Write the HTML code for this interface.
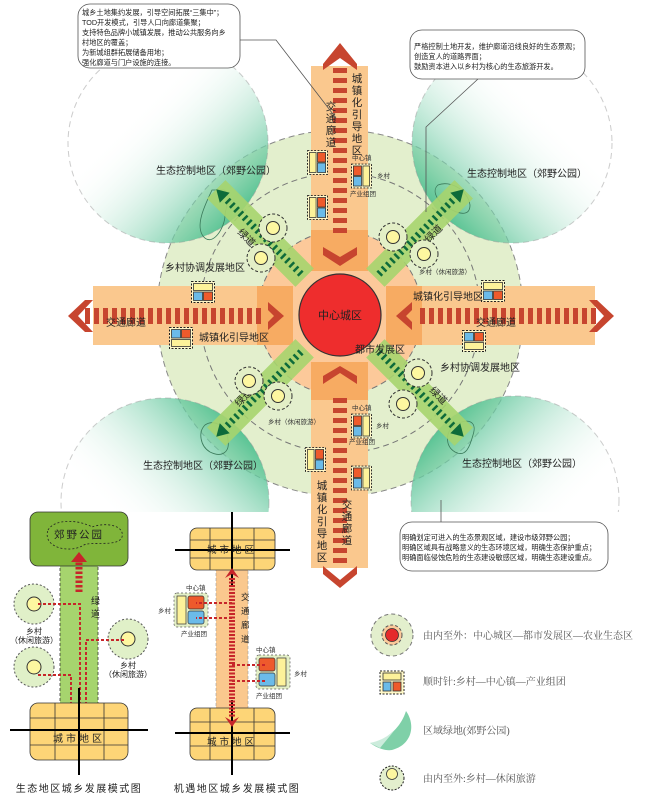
<!DOCTYPE html>
<html><head><meta charset="utf-8">
<style>
html,body{margin:0;padding:0;background:#fff;}
svg{display:block;font-family:"Liberation Sans","Noto Sans CJK SC",sans-serif;}
</style></head>
<body>
<svg width="670" height="800" viewBox="0 0 670 800" xmlns="http://www.w3.org/2000/svg">
<defs>
  <linearGradient id="gNW" x1="0.1" y1="0.1" x2="0.9" y2="0.9"><stop offset="0.3" stop-color="#fff" stop-opacity="0"/><stop offset="1" stop-color="#3dba85"/></linearGradient>
  <linearGradient id="gNE" x1="0.9" y1="0.1" x2="0.1" y2="0.9"><stop offset="0.3" stop-color="#fff" stop-opacity="0"/><stop offset="1" stop-color="#3dba85"/></linearGradient>
  <linearGradient id="gSW" x1="0.1" y1="0.9" x2="0.9" y2="0.1"><stop offset="0.3" stop-color="#fff" stop-opacity="0"/><stop offset="1" stop-color="#3dba85"/></linearGradient>
  <linearGradient id="gSE" x1="0.9" y1="0.9" x2="0.1" y2="0.1"><stop offset="0.3" stop-color="#fff" stop-opacity="0"/><stop offset="1" stop-color="#3dba85"/></linearGradient>
  <clipPath id="clipTop"><rect x="0" y="0" width="670" height="512"/></clipPath>
  <symbol id="tv" viewBox="0 0 22 26"><rect x="0.5" y="0.5" width="21" height="25" fill="#fff8c8" stroke="#222" stroke-dasharray="2 1.5"/><rect x="2.5" y="2.5" width="7" height="21" fill="#fdf29a" stroke="#333" stroke-width="0.8"/><rect x="11" y="2.5" width="8.5" height="10" fill="#ee5a2c" stroke="#333" stroke-width="0.8"/><rect x="11" y="13.5" width="8.5" height="10" fill="#6bbbe9" stroke="#333" stroke-width="0.8"/></symbol>
  <symbol id="tvr" viewBox="0 0 22 26"><rect x="0.5" y="0.5" width="21" height="25" fill="#fff8c8" stroke="#222" stroke-dasharray="2 1.5"/><rect x="12.5" y="2.5" width="7" height="21" fill="#fdf29a" stroke="#333" stroke-width="0.8"/><rect x="2.5" y="2.5" width="8.5" height="10" fill="#ee5a2c" stroke="#333" stroke-width="0.8"/><rect x="2.5" y="13.5" width="8.5" height="10" fill="#6bbbe9" stroke="#333" stroke-width="0.8"/></symbol>
  <symbol id="th" viewBox="0 0 24 22"><rect x="0.5" y="0.5" width="23" height="21" fill="#fff8c8" stroke="#222" stroke-dasharray="2 1.5"/><rect x="2.5" y="2.5" width="19" height="7" fill="#fdf29a" stroke="#333" stroke-width="0.8"/><rect x="2.5" y="11" width="9" height="8.5" fill="#6bbbe9" stroke="#333" stroke-width="0.8"/><rect x="12.5" y="11" width="9" height="8.5" fill="#ee5a2c" stroke="#333" stroke-width="0.8"/></symbol>
  <symbol id="thb" viewBox="0 0 24 22"><rect x="0.5" y="0.5" width="23" height="21" fill="#fff8c8" stroke="#222" stroke-dasharray="2 1.5"/><rect x="2.5" y="12.5" width="19" height="7" fill="#fdf29a" stroke="#333" stroke-width="0.8"/><rect x="2.5" y="2.5" width="9" height="8.5" fill="#6bbbe9" stroke="#333" stroke-width="0.8"/><rect x="12.5" y="2.5" width="9" height="8.5" fill="#ee5a2c" stroke="#333" stroke-width="0.8"/></symbol>
  <symbol id="vil" viewBox="0 0 30 30"><circle cx="15" cy="15" r="14" fill="#e3efc6" stroke="#333" stroke-dasharray="3 2"/><circle cx="15" cy="15" r="6.5" fill="#fdf7a0" stroke="#333"/></symbol>
</defs>

<!-- big green circle -->
<circle cx="340" cy="313" r="183" fill="#e3efcd" stroke="#888" stroke-dasharray="6 4"/>
<circle cx="340" cy="313" r="140" fill="none" stroke="#777" stroke-dasharray="6 4"/>

<!-- eco wedges -->
<g clip-path="url(#clipTop)">
<circle cx="168" cy="143" r="100" fill="url(#gNW)" stroke="#999" stroke-dasharray="6 4" stroke-opacity="0.5"/>
<circle cx="512" cy="143" r="100" fill="url(#gNE)" stroke="#999" stroke-dasharray="6 4" stroke-opacity="0.5"/>
<circle cx="165" cy="502" r="104" fill="url(#gSW)" stroke="#999" stroke-dasharray="6 4" stroke-opacity="0.5"/>
<circle cx="515" cy="500" r="104" fill="url(#gSE)" stroke="#999" stroke-dasharray="6 4" stroke-opacity="0.5"/>
</g>
<!-- park blobs -->
<path d="M212 190 C205 205,195 225,203 236 C212 248,225 228,225 215 C226 205,232 195,224 190 Z" fill="none" stroke="#3a7a5a" stroke-width="0.8"/>
<path d="M438 185 C450 180,468 190,470 205 C470 215,462 215,452 210 C440 205,430 192,438 185 Z" fill="none" stroke="#3a7a5a" stroke-width="0.8"/>
<path d="M205 425 C215 418,228 428,228 440 C230 452,222 458,210 452 C200 446,198 432,205 425 Z" fill="none" stroke="#3a7a5a" stroke-width="0.8"/>
<path d="M455 425 C466 418,478 420,473 435 C470 446,466 458,455 452 C445 446,445 432,455 425 Z" fill="none" stroke="#3a7a5a" stroke-width="0.8"/>

<!-- orange circle -->
<circle cx="340" cy="313" r="82" fill="#fcc99a" stroke="#777" stroke-dasharray="6 4"/>

<!-- bands -->
<rect x="311" y="66" width="57" height="178" fill="#fac88e"/>
<rect x="311" y="365" width="57" height="203" fill="#fac88e"/>
<rect x="93" y="286" width="172" height="59" fill="#fac88e"/>
<rect x="413" y="286" width="182" height="59" fill="#fac88e"/>
<rect x="311" y="230" width="57" height="41" fill="#f7ab62"/>
<rect x="311" y="362" width="57" height="38" fill="#f7ab62"/>
<rect x="257" y="286" width="36" height="59" fill="#f7ab62"/>
<rect x="386" y="286" width="36" height="59" fill="#f7ab62"/>

<!-- red dashes -->
<line x1="340" y1="68" x2="340" y2="238" stroke="#c7452f" stroke-width="14" stroke-dasharray="5 5"/>
<line x1="340" y1="398" x2="340" y2="565" stroke="#c7452f" stroke-width="14" stroke-dasharray="5 5"/>
<line x1="85" y1="316" x2="265" y2="316" stroke="#c7452f" stroke-width="16" stroke-dasharray="5 4"/>
<line x1="420" y1="316" x2="598" y2="316" stroke="#c7452f" stroke-width="16" stroke-dasharray="5 4"/>
<!-- chevrons -->
<polygon points="323,64 340,43 357,64 357,70 340,58 323,70" fill="#c7452f"/>
<polygon points="323,566 340,580 357,566 357,574 340,588 323,574" fill="#c7452f"/>
<polygon points="323,247 340,257 357,247 357,255 340,266 323,255" fill="#c7452f"/>
<polygon points="323,384 340,373 357,384 357,376 340,366 323,376" fill="#c7452f"/>
<polygon points="85,300 68,316 85,332 93,332 78,316 93,300" fill="#c7452f"/>
<polygon points="597,300 614,316 597,332 589,332 604,316 589,300" fill="#c7452f"/>
<polygon points="268,302 284,316 268,330 268,322 274,316 268,310" fill="#c7452f"/>
<polygon points="412,302 396,316 412,330 412,322 406,316 412,310" fill="#c7452f"/>

<!-- diagonal greenways -->
<g transform="translate(340,313) rotate(-135)">
  <rect x="50" y="-13" width="125" height="26" fill="#a6d46e" opacity="0.9"/>
  <line x1="55" y1="0" x2="163" y2="0" stroke="#0d6b3a" stroke-width="7" stroke-dasharray="2.5 3.5"/>
  <polygon points="163,-7 175,0 163,7" fill="#0d6b3a"/>
</g>
<g transform="translate(340,313) rotate(-45)">
  <rect x="50" y="-13" width="125" height="26" fill="#a6d46e" opacity="0.9"/>
  <line x1="55" y1="0" x2="163" y2="0" stroke="#0d6b3a" stroke-width="7" stroke-dasharray="2.5 3.5"/>
  <polygon points="163,-7 175,0 163,7" fill="#0d6b3a"/>
</g>
<g transform="translate(340,313) rotate(135)">
  <rect x="50" y="-13" width="125" height="26" fill="#a6d46e" opacity="0.9"/>
  <line x1="55" y1="0" x2="163" y2="0" stroke="#0d6b3a" stroke-width="7" stroke-dasharray="2.5 3.5"/>
  <polygon points="163,-7 175,0 163,7" fill="#0d6b3a"/>
</g>
<g transform="translate(340,313) rotate(45)">
  <rect x="50" y="-13" width="125" height="26" fill="#a6d46e" opacity="0.9"/>
  <line x1="55" y1="0" x2="163" y2="0" stroke="#0d6b3a" stroke-width="7" stroke-dasharray="2.5 3.5"/>
  <polygon points="163,-7 175,0 163,7" fill="#0d6b3a"/>
</g>
<g font-size="10" fill="#222">
<text x="244" y="240" transform="rotate(45 244 240)" text-anchor="middle">绿道</text>
<text x="436" y="236" transform="rotate(-45 436 236)" text-anchor="middle">绿道</text>
<text x="246" y="400" transform="rotate(-45 246 400)" text-anchor="middle">绿道</text>
<text x="436" y="398" transform="rotate(45 436 398)" text-anchor="middle">绿道</text>
</g>

<!-- center -->
<circle cx="340" cy="315" r="41" fill="#ee2d2d" stroke="#333" stroke-width="1.2"/>
<text x="340" y="319" font-size="11" text-anchor="middle" fill="#222">中心城区</text>
<text x="355" y="353" font-size="10" fill="#222">都市发展区</text>

<!-- villages -->
<use href="#vil" x="258" y="213" width="30" height="30"/>
<use href="#vil" x="246" y="243" width="30" height="30"/>
<use href="#vil" x="378" y="222" width="30" height="30"/>
<use href="#vil" x="409" y="239" width="30" height="30"/>
<use href="#vil" x="234" y="366" width="30" height="30"/>
<use href="#vil" x="263" y="381" width="30" height="30"/>
<use href="#vil" x="403" y="358" width="30" height="30"/>
<use href="#vil" x="388" y="389" width="30" height="30"/>
<text x="419" y="274" font-size="6.5" fill="#333">乡村（休闲旅游）</text>
<text x="268" y="424" font-size="6.5" fill="#333">乡村（休闲旅游）</text>

<!-- towns -->
<use href="#tv" x="307" y="150" width="21" height="25"/>
<use href="#tv" x="307" y="195" width="21" height="25"/>
<use href="#tvr" x="351" y="163" width="21" height="26"/>
<text x="352" y="160" font-size="6.5" fill="#333">中心镇</text>
<text x="377" y="178" font-size="6.5" fill="#333">乡村</text>
<text x="350" y="196" font-size="6.5" fill="#333">产业组团</text>
<use href="#th" x="191" y="281" width="24" height="22"/>
<use href="#thb" x="169" y="327" width="24" height="22"/>
<use href="#th" x="481" y="280" width="24" height="22"/>
<use href="#thb" x="462" y="330" width="24" height="22"/>
<use href="#tv" x="305" y="447" width="21" height="25"/>
<use href="#tvr" x="351" y="413" width="21" height="26"/>
<use href="#tvr" x="351" y="465" width="21" height="26"/>
<text x="352" y="410" font-size="6.5" fill="#333">中心镇</text>
<text x="376" y="428" font-size="6.5" fill="#333">乡村</text>
<text x="349" y="444" font-size="6.5" fill="#333">产业组团</text>

<!-- labels -->
<g font-size="10" fill="#222">
<text x="156" y="174">生态控制地区（郊野公园）</text>
<text x="467" y="177">生态控制地区（郊野公园）</text>
<text x="143" y="469">生态控制地区（郊野公园）</text>
<text x="462" y="467">生态控制地区（郊野公园）</text>
<text x="165" y="271">乡村协调发展地区</text>
<text x="440" y="371">乡村协调发展地区</text>
<text x="106" y="326">交通廊道</text>
<text x="476" y="326">交通廊道</text>
<text x="199" y="341">城镇化引导地区</text>
<text x="413" y="300">城镇化引导地区</text>
</g>
<g font-size="10.5" fill="#222" text-anchor="middle">
<text x="357" y="82">城</text><text x="357" y="94">镇</text><text x="357" y="106">化</text><text x="357" y="118">引</text><text x="357" y="130">导</text><text x="357" y="142">地</text><text x="357" y="154">区</text>
<text x="331" y="110">交</text><text x="331" y="122">通</text><text x="331" y="134">廊</text><text x="331" y="146">道</text>
<text x="322" y="489">城</text><text x="322" y="501">镇</text><text x="322" y="513">化</text><text x="322" y="525">引</text><text x="322" y="537">导</text><text x="322" y="549">地</text><text x="322" y="561">区</text>
<text x="347" y="508">交</text><text x="347" y="520">通</text><text x="347" y="532">廊</text><text x="347" y="544">道</text>
</g>

<!-- callouts -->
<g fill="none" stroke="#555" stroke-width="0.8">
<polyline points="240,40 276,40 336,118"/>
<polyline points="478,79 426,127 426,212"/>
<line x1="441" y1="500" x2="441" y2="522"/>
</g>
<rect x="78" y="4" width="162" height="64" rx="12" fill="#fff" stroke="#555" stroke-width="0.8"/>
<g font-size="7.2" fill="#222">
<text x="82" y="15">城乡土地集约发展，引导空间拓展“三集中”；</text>
<text x="82" y="25">TOD开发模式，引导人口向廊道集聚；</text>
<text x="82" y="35">支持特色品牌小城镇发展，推动公共服务向乡</text>
<text x="82" y="45">村地区的覆盖；</text>
<text x="82" y="55">为新城组群拓展储备用地；</text>
<text x="82" y="65">强化廊道与门户设施的连接。</text>
</g>
<rect x="410" y="30" width="175" height="49" rx="12" fill="#fff" stroke="#555" stroke-width="0.8"/>
<g font-size="7.2" fill="#222">
<text x="414" y="49">严格控制土地开发，维护廊道沿线良好的生态景观；</text>
<text x="414" y="59">创造宜人的道路界面；</text>
<text x="414" y="69">鼓励资本进入以乡村为核心的生态旅游开发。</text>
</g>
<rect x="400" y="522" width="208" height="49" rx="12" fill="#fff" stroke="#555" stroke-width="0.8"/>
<g font-size="7.2" fill="#222">
<text x="402" y="540">明确划定可进入的生态景观区域，建设市级郊野公园；</text>
<text x="402" y="550">明确区域具有战略意义的生态环境区域，明确生态保护重点；</text>
<text x="402" y="560">明确面临侵蚀危险的生态建设敏感区域，明确生态建设重点。</text>
</g>

<!-- bottom-left diagram -->
<rect x="60" y="565" width="38" height="140" fill="#a6d46e" stroke="#333" stroke-dasharray="3 2" stroke-width="0.8"/>
<rect x="30" y="512" width="98" height="54" rx="8" fill="#80b53a" stroke="#333" stroke-width="0.8"/>
<path d="M48 530 C55 518,80 520,92 527 C105 522,125 525,122 537 C118 548,90 540,82 546 C70 553,42 548,48 530 Z" fill="none" stroke="#222" stroke-dasharray="2 2" stroke-width="0.8"/>
<text x="79" y="538" font-size="10.5" text-anchor="middle" fill="#222" letter-spacing="2">郊野公园</text>
<line x1="79" y1="592" x2="79" y2="560" stroke="#c7252a" stroke-width="7" stroke-dasharray="2.5 2"/>
<polygon points="71,562 79,552 87,562" fill="#c7252a"/>
<text x="91" y="604" font-size="9" fill="#222">绿</text>
<text x="91" y="617" font-size="9" fill="#222">道</text>
<circle cx="34" cy="604" r="20" fill="#e0f0c8" stroke="#555" stroke-dasharray="2 2"/>
<circle cx="34" cy="604" r="7" fill="#fdf7a0" stroke="#333"/>
<circle cx="34" cy="667" r="20" fill="#e0f0c8" stroke="#555" stroke-dasharray="2 2"/>
<circle cx="34" cy="667" r="7" fill="#fdf7a0" stroke="#333"/>
<circle cx="128" cy="639" r="20" fill="#e0f0c8" stroke="#555" stroke-dasharray="2 2"/>
<circle cx="128" cy="639" r="7" fill="#fdf7a0" stroke="#333"/>
<g fill="none" stroke="#c7252a" stroke-width="2" stroke-dasharray="3 2">
<polyline points="80,710 80,604 38,604"/>
<polyline points="71,710 71,675 38,675"/>
<polyline points="86,710 86,640 124,640"/>
</g>
<g font-size="8" fill="#222" text-anchor="middle">
<text x="34" y="634">乡村</text><text x="34" y="643">（休闲旅游）</text>
<text x="128" y="668">乡村</text><text x="128" y="677">（休闲旅游）</text>
</g>
<rect x="30" y="703" width="98" height="57" rx="8" fill="#fdd577" stroke="#333" stroke-width="0.8"/>
<g stroke="#333" stroke-width="0.8"><line x1="55" y1="703" x2="55" y2="760"/><line x1="104" y1="703" x2="104" y2="760"/><line x1="30" y1="718" x2="128" y2="718"/><line x1="30" y1="745" x2="128" y2="745"/></g>
<g stroke="#000" stroke-width="2"><line x1="79" y1="688" x2="79" y2="775"/><line x1="10" y1="730" x2="148" y2="730"/></g>
<text x="79" y="742" font-size="10" text-anchor="middle" fill="#222" letter-spacing="3">城市地区</text>
<text x="79" y="792" font-size="10" text-anchor="middle" fill="#222" letter-spacing="1.5">生态地区城乡发展模式图</text>

<!-- bottom-middle diagram -->
<rect x="216" y="568" width="32" height="142" fill="#fac88e" stroke="#999" stroke-dasharray="3 2" stroke-width="0.6"/>
<rect x="190" y="528" width="85" height="42" rx="7" fill="#fdd577" stroke="#333" stroke-width="0.8"/>
<g stroke="#333" stroke-width="0.8"><line x1="210" y1="528" x2="210" y2="570"/><line x1="254" y1="528" x2="254" y2="570"/><line x1="190" y1="540" x2="275" y2="540"/><line x1="190" y1="558" x2="275" y2="558"/></g>
<g stroke="#000" stroke-width="2"><line x1="232" y1="512" x2="232" y2="585"/><line x1="175" y1="550" x2="290" y2="550"/></g>
<text x="232" y="553" font-size="9.5" text-anchor="middle" fill="#222" letter-spacing="3">城市地区</text>
<rect x="190" y="708" width="85" height="52" rx="7" fill="#fdd577" stroke="#333" stroke-width="0.8"/>
<g stroke="#333" stroke-width="0.8"><line x1="210" y1="708" x2="210" y2="760"/><line x1="254" y1="708" x2="254" y2="760"/><line x1="190" y1="722" x2="275" y2="722"/><line x1="190" y1="746" x2="275" y2="746"/></g>
<g stroke="#000" stroke-width="2"><line x1="232" y1="700" x2="232" y2="775"/><line x1="175" y1="733" x2="290" y2="733"/></g>
<text x="232" y="745" font-size="9.5" text-anchor="middle" fill="#222" letter-spacing="3">城市地区</text>
<line x1="232" y1="578" x2="232" y2="718" stroke="#c7252a" stroke-width="6" stroke-dasharray="2 1.5"/>
<polygon points="225,578 232,568 239,578 232,574" fill="#c7252a"/>
<polygon points="225,717 232,727 239,717 232,721" fill="#c7252a"/>
<g font-size="8.5" fill="#222"><text x="241" y="600">交</text><text x="241" y="614">通</text><text x="241" y="628">廊</text><text x="241" y="642">道</text></g>
<rect x="174" y="593" width="34" height="34" rx="3" fill="#e3efc6" stroke="#555" stroke-dasharray="2 2" stroke-width="0.7"/>
<rect x="177" y="596" width="9" height="28" fill="#fdf29a" stroke="#333" stroke-width="0.7"/>
<rect x="188" y="596" width="16" height="13" rx="2" fill="#ee5a2c" stroke="#333" stroke-width="0.7"/>
<rect x="188" y="611" width="16" height="13" rx="2" fill="#6bbbe9" stroke="#333" stroke-width="0.7"/>
<rect x="256" y="655" width="34" height="34" rx="3" fill="#e3efc6" stroke="#555" stroke-dasharray="2 2" stroke-width="0.7"/>
<rect x="259" y="658" width="16" height="13" rx="2" fill="#ee5a2c" stroke="#333" stroke-width="0.7"/>
<rect x="259" y="673" width="16" height="13" rx="2" fill="#6bbbe9" stroke="#333" stroke-width="0.7"/>
<rect x="277" y="658" width="9" height="28" fill="#fdf29a" stroke="#333" stroke-width="0.7"/>
<g fill="none" stroke="#c7252a" stroke-width="2" stroke-dasharray="3 2">
<line x1="232" y1="603" x2="196" y2="603"/><line x1="232" y1="618" x2="196" y2="618"/>
<line x1="232" y1="665" x2="266" y2="665"/><line x1="232" y1="681" x2="266" y2="681"/>
</g>
<g font-size="6.5" fill="#333">
<text x="186" y="590">中心镇</text><text x="158" y="613">乡村</text><text x="181" y="636">产业组团</text>
<text x="256" y="652">中心镇</text><text x="294" y="676">乡村</text><text x="256" y="698">产业组团</text>
</g>
<text x="237" y="792" font-size="10" text-anchor="middle" fill="#222" letter-spacing="1.5">机遇地区城乡发展模式图</text>

<!-- legend -->
<circle cx="392" cy="635" r="21" fill="#e3efcd" stroke="#777" stroke-dasharray="4 3"/>
<circle cx="392" cy="635" r="10" fill="#fcc99a" stroke="#555" stroke-dasharray="3 2"/>
<circle cx="392" cy="635" r="6.5" fill="#e52b2b" stroke="#333" stroke-width="0.8"/>
<text x="423" y="639" font-size="10" fill="#555" font-family="Liberation Serif, Noto Serif CJK SC, serif">由内至外：中心城区—都市发展区—农业生态区</text>
<rect x="380" y="671" width="24" height="23" fill="#fff8c8" stroke="#222" stroke-dasharray="2 1.5"/>
<rect x="383" y="673" width="18" height="7" fill="#fdf29a" stroke="#333" stroke-width="0.8"/>
<rect x="383" y="682" width="8" height="9" fill="#6bbbe9" stroke="#333" stroke-width="0.8"/>
<rect x="393" y="682" width="8" height="9" fill="#ee5a2c" stroke="#333" stroke-width="0.8"/>
<text x="423" y="685" font-size="10" fill="#555" font-family="Liberation Serif, Noto Serif CJK SC, serif">顺时针:乡村—中心镇—产业组团</text>
<path d="M406 711 C416 725,412 745,392 750 C385 751,377 748,370 743 C385 740,400 730,406 711 Z" fill="#7fd0a8"/>
<path d="M370 743 C380 740,388 736,394 731 L380 748 Z" fill="#fff" opacity="0.6"/>
<text x="423" y="734" font-size="10" fill="#555" font-family="Liberation Serif, Noto Serif CJK SC, serif">区域绿地(郊野公园)</text>
<circle cx="392" cy="778" r="12" fill="#e3efcd" stroke="#222" stroke-dasharray="2 1.5"/>
<circle cx="392" cy="774" r="5.5" fill="#fdf7a0" stroke="#333" stroke-width="0.8"/>
<text x="423" y="782" font-size="10" fill="#555" font-family="Liberation Serif, Noto Serif CJK SC, serif">由内至外:乡村—休闲旅游</text>
</svg>
</body></html>
